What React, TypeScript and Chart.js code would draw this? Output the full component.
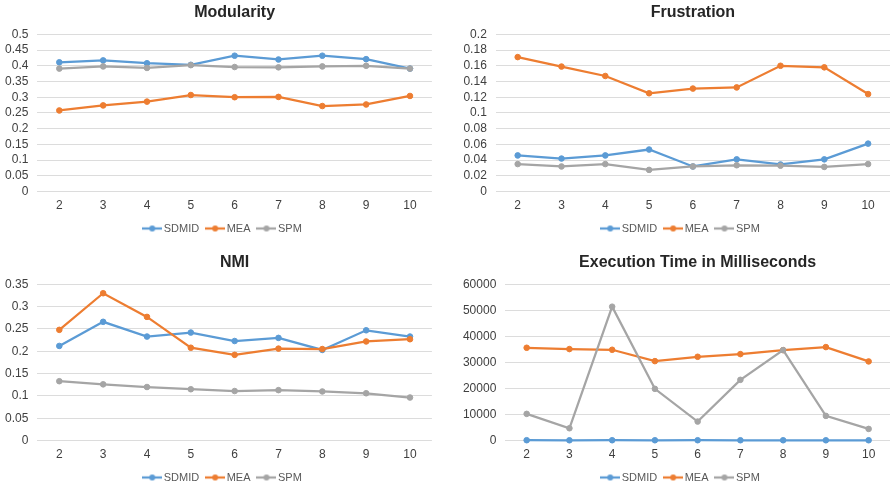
import React, { useEffect, useRef } from "react";
import { Chart, registerables } from "chart.js";

Chart.register(...registerables);

const FONT = '"Liberation Sans", Arial, Helvetica, sans-serif';

// Shared categories and series names
const categories = ["2", "3", "4", "5", "6", "7", "8", "9", "10"];
const seriesNames = ["SDMID", "MEA", "SPM"];
const seriesColors = ["#5B9BD5", "#ED7D31", "#A5A5A5"];

// Modularity
const modularitySDMID = [0.411, 0.417, 0.408, 0.403, 0.432, 0.42, 0.432, 0.421, 0.391];
const modularityMEA = [0.258, 0.274, 0.286, 0.307, 0.3, 0.301, 0.272, 0.277, 0.304];
const modularitySPM = [0.391, 0.398, 0.393, 0.402, 0.396, 0.395, 0.398, 0.4, 0.391];
const modularityTicks = [0, 0.05, 0.1, 0.15, 0.2, 0.25, 0.3, 0.35, 0.4, 0.45, 0.5];

// Frustration
const frustrationSDMID = [0.046, 0.042, 0.046, 0.0535, 0.032, 0.041, 0.0345, 0.041, 0.061];
const frustrationMEA = [0.171, 0.159, 0.147, 0.125, 0.131, 0.1325, 0.16, 0.158, 0.124];
const frustrationSPM = [0.035, 0.032, 0.035, 0.0276, 0.032, 0.0335, 0.033, 0.0314, 0.035];
const frustrationTicks = [0, 0.02, 0.04, 0.06, 0.08, 0.1, 0.12, 0.14, 0.16, 0.18, 0.2];

// NMI
const nmiSDMID = [0.212, 0.266, 0.233, 0.242, 0.223, 0.23, 0.203, 0.247, 0.233];
const nmiMEA = [0.248, 0.33, 0.277, 0.208, 0.192, 0.206, 0.205, 0.222, 0.227];
const nmiSPM = [0.133, 0.126, 0.12, 0.115, 0.111, 0.113, 0.11, 0.106, 0.0965];
const nmiTicks = [0, 0.05, 0.1, 0.15, 0.2, 0.25, 0.3, 0.35];

// Execution time (ms)
const timeSDMID = [150, 120, 140, 130, 140, 130, 130, 120, 130];
const timeMEA = [35640, 35130, 34870, 30510, 32180, 33200, 34740, 35900, 30390];
const timeSPM = [10260, 4740, 51410, 19870, 7310, 23330, 34740, 9490, 4490];
const timeTicks = [0, 10000, 20000, 30000, 40000, 50000, 60000];

type Box = {
  left: number;
  top: number;
  width: number;
  height: number;
  axisWidth: number;
  rightGap: number;
};

function legendMarker(color: string): HTMLCanvasElement {
  const c = document.createElement("canvas");
  c.width = 20;
  c.height = 8;
  const g = c.getContext("2d")!;
  g.strokeStyle = color;
  g.lineWidth = 2.25;
  g.beginPath();
  g.moveTo(0, 4);
  g.lineTo(20, 4);
  g.stroke();
  g.fillStyle = color;
  g.beginPath();
  g.arc(10, 4, 3, 0, Math.PI * 2);
  g.fill();
  return c;
}

function LinePanel(props: { title: string; series: number[][]; ticks: number[]; box: Box }) {
  const { title, series, ticks, box } = props;
  const ref = useRef<HTMLCanvasElement>(null);

  useEffect(() => {
    const markers = seriesColors.map(legendMarker);
    const chart = new Chart(ref.current!, {
      type: "line",
      data: {
        labels: categories,
        datasets: series.map((values, i) => ({
          label: seriesNames[i],
          data: values,
          yAxisID: "y",
          borderColor: seriesColors[i],
          backgroundColor: seriesColors[i],
          pointBackgroundColor: seriesColors[i],
          pointBorderColor: seriesColors[i],
          borderWidth: 2.25,
          pointRadius: 2.8,
          pointBorderWidth: 1,
          tension: 0,
          clip: false,
          order: series.length - i,
        })),
      },
      options: {
        responsive: false,
        animation: false,
        devicePixelRatio: 1,
        layout: { padding: 0 },
        plugins: {
          tooltip: { enabled: false },
          title: {
            display: true,
            text: title,
            fullSize: false,
            color: "#262626",
            font: { family: FONT, size: 16, weight: "bold" },
            padding: { top: 2.9, bottom: 12.2 },
          },
          legend: {
            position: "bottom",
            labels: {
              usePointStyle: true,
              pointStyleWidth: 12,
              padding: 10,
              color: "#595959",
              font: { family: FONT, size: 11 },
              sort: (a: any, b: any) => a.datasetIndex - b.datasetIndex,
              generateLabels: (c: any) =>
                Chart.defaults.plugins.legend.labels
                  .generateLabels(c)
                  .map((item: any) => ({ ...item, pointStyle: markers[item.datasetIndex] })),
            },
          },
        },
        scales: {
          x: {
            offset: true,
            grid: { display: false, drawTicks: false },
            border: { display: false },
            ticks: { padding: 7, color: "#404040", font: { family: FONT, size: 12 } },
            afterFit: (s: any) => {
              s.height = 21.4;
            },
          },
          y: {
            min: ticks[0],
            max: ticks[ticks.length - 1],
            afterBuildTicks: (s: any) => {
              s.ticks = ticks.map((v) => ({ value: v }));
            },
            afterFit: (s: any) => {
              s.width = box.axisWidth;
            },
            grid: { color: "#dcdcdc", lineWidth: 1, drawTicks: false },
            border: { display: false },
            ticks: {
              autoSkip: false,
              padding: 9,
              color: "#404040",
              font: { family: FONT, size: 12 },
              callback: (v: any) => String(v),
            },
          },
          yRight: {
            type: "linear",
            position: "right",
            grid: { display: false, drawTicks: false },
            border: { display: false },
            ticks: { display: false },
            afterFit: (s: any) => {
              s.width = box.rightGap;
            },
          },
        },
      } as any,
    });
    return () => chart.destroy();
  }, []);

  return (
    <canvas
      ref={ref}
      width={box.width}
      height={box.height}
      style={{
        position: "absolute",
        left: box.left,
        top: box.top,
        width: box.width,
        height: box.height,
      }}
    />
  );
}

export default function App() {
  return (
    <div
      style={{
        position: "fixed",
        left: 0,
        top: 0,
        width: 890,
        height: 487,
        overflow: "hidden",
        background: "#ffffff",
      }}
    >
      <LinePanel
        title="Modularity"
        series={[modularitySDMID, modularityMEA, modularitySPM]}
        ticks={modularityTicks}
        box={{ left: 0, top: 0, width: 448, height: 244, axisWidth: 37.4, rightGap: 16.1 }}
      />
      <LinePanel
        title="Frustration"
        series={[frustrationSDMID, frustrationMEA, frustrationSPM]}
        ticks={frustrationTicks}
        box={{ left: 455, top: 0, width: 454, height: 244, axisWidth: 40.8, rightGap: 19 }}
      />
      <LinePanel
        title="NMI"
        series={[nmiSDMID, nmiMEA, nmiSPM]}
        ticks={nmiTicks}
        box={{ left: 0, top: 250, width: 448, height: 243, axisWidth: 37.4, rightGap: 16.1 }}
      />
      <LinePanel
        title="Execution Time in Milliseconds"
        series={[timeSDMID, timeMEA, timeSPM]}
        ticks={timeTicks}
        box={{ left: 455, top: 250, width: 454, height: 243, axisWidth: 50.3, rightGap: 19 }}
      />
    </div>
  );
}
